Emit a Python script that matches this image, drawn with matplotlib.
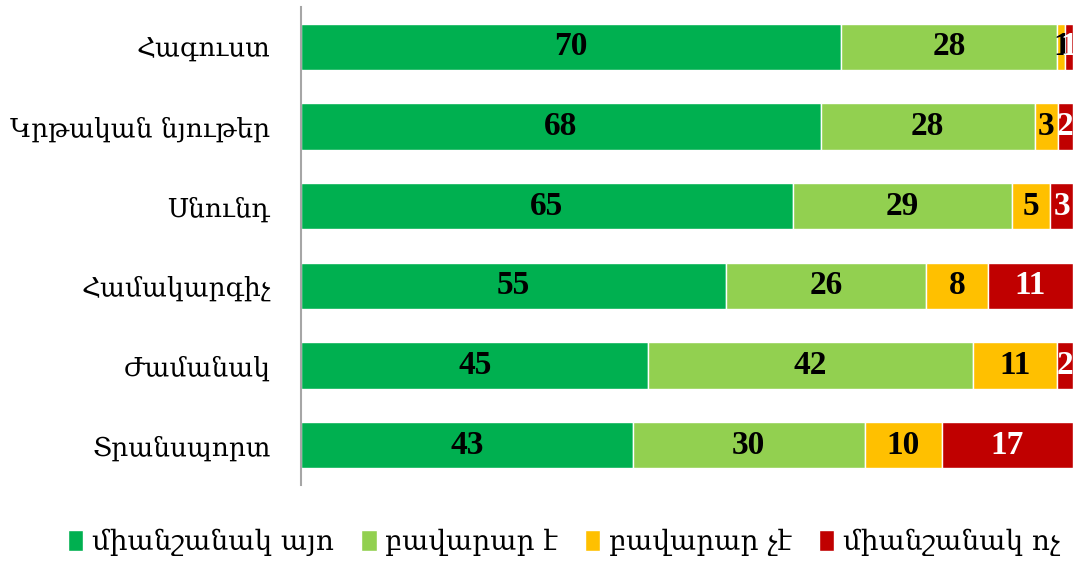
import matplotlib

matplotlib.use("Agg")
import matplotlib.pyplot as plt
import numpy as np

plt.rcParams["font.family"] = ["Liberation Serif", "DejaVu Serif"]

categories = ["Հագուստ", "Կրթական նյութեր", "Սնունդ", "Համակարգիչ", "Ժամանակ", "Տրանսպորտ"]
series_names = ["միանշանակ այո", "բավարար է", "բավարար չէ", "միանշանակ ոչ"]
yes_definitely = [70, 68, 65, 55, 45, 43]
enough = [28, 28, 29, 26, 42, 30]
not_enough = [1, 3, 5, 8, 11, 10]
no_definitely = [1, 2, 3, 11, 2, 17]

colors = ["#00B050", "#92D050", "#FFC000", "#C00000"]
text_colors = ["black", "black", "black", "white"]

# 100% stacked: each row is scaled to its own total
data = np.array([yes_definitely, enough, not_enough, no_definitely], dtype=float)
shares = data / data.sum(axis=0)

fig = plt.figure(figsize=(10.74, 5.65), dpi=100)
ax = fig.add_axes([0.2803, 0.1416, 0.7187, 0.846])

y = np.arange(len(categories))
left = np.zeros(len(categories))
for i, name in enumerate(series_names):
    bars = ax.barh(y, shares[i], left=left, height=0.58, color=colors[i],
                   edgecolor="white", linewidth=1, label=name)
    for j, b in enumerate(bars):
        ax.text(left[j] + shares[i][j] / 2, y[j], f"{int(data[i][j])}",
                ha="center", va="center", fontsize=24, fontweight="bold",
                color=text_colors[i], family="Liberation Serif", clip_on=False)
    left += shares[i]

ax.set_xlim(0, 1)
ax.set_ylim(len(categories) - 0.5, -0.5)
ax.set_yticks(y)
ax.set_yticklabels(categories, fontsize=19, family="DejaVu Serif")
ax.tick_params(axis="y", length=0, pad=22)
ax.set_xticks([])
for s in ["top", "right", "bottom"]:
    ax.spines[s].set_visible(False)
ax.spines["left"].set_color("#A6A6A6")
ax.spines["left"].set_linewidth(1.5)

fig.legend(loc="center", bbox_to_anchor=(0.525, 0.04), ncol=4, frameon=False,
           prop={"family": "DejaVu Serif", "size": 20}, handlelength=0.55,
           handleheight=0.8, handletextpad=0.3, columnspacing=1.0)

fig.savefig("out.png", dpi=100)
